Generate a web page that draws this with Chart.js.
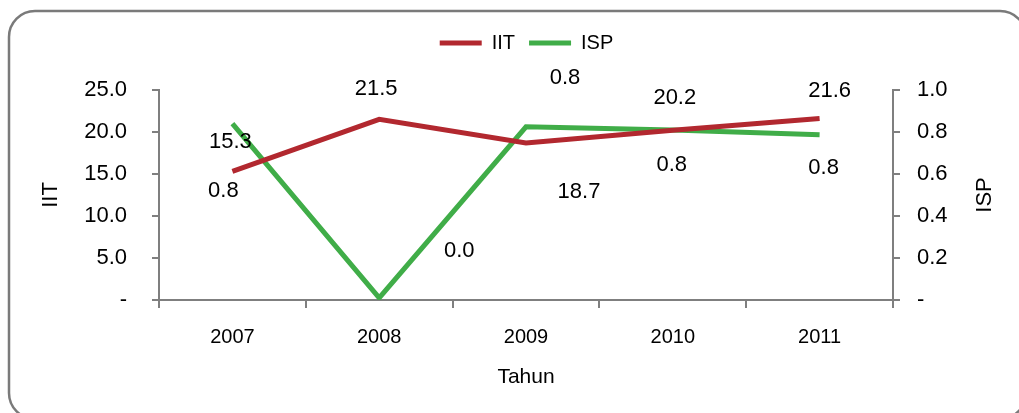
<!DOCTYPE html>
<html>
<head>
<meta charset="utf-8">
<script src="https://cdn.jsdelivr.net/npm/chart.js@4"></script>
<style>
  html, body { margin: 0; padding: 0; background: #fff; }
  #wrap { width: 1019px; height: 413px; }
</style>
</head>
<body>
<div id="wrap"><canvas id="c" width="1019" height="413"></canvas></div>
<script>
// data
const years = ["2007", "2008", "2009", "2010", "2011"];
const iitValues = [15.3, 21.5, 18.7, 20.2, 21.6];
const ispValues = [0.84, 0.01, 0.825, 0.81, 0.787];
const iitTicks = [0, 5, 10, 15, 20, 25];
const ispTicks = [0, 0.2, 0.4, 0.6, 0.8, 1.0];

// where each data label sits relative to its point (px)
const iitLabelOffsets = [[-2, -30], [-3, -30], [53, 49], [2, -32], [10, -28]];
const ispLabelOffsets = [[-9, 67], [80, -47], [39, -49], [-1, 35], [4, 33]];

const RED = "#b2282f";
const GREEN = "#40ad48";
const AXIS = "#7f7f7f";
const FONT = "'Liberation Sans', Arial, sans-serif";

// rounded frame around the whole chart
const framePlugin = {
  id: "frame",
  beforeDraw(chart) {
    const ctx = chart.ctx;
    const x = 9, y = 11, w = 1017, h = 408, r = 26;
    ctx.save();
    ctx.fillStyle = "#fff";
    ctx.fillRect(0, 0, chart.width, chart.height);
    ctx.beginPath();
    ctx.moveTo(x + r, y);
    ctx.lineTo(x + w - r, y);
    ctx.arcTo(x + w, y, x + w, y + r, r);
    ctx.lineTo(x + w, y + h - r);
    ctx.arcTo(x + w, y + h, x + w - r, y + h, r);
    ctx.lineTo(x + r, y + h);
    ctx.arcTo(x, y + h, x, y + h - r, r);
    ctx.lineTo(x, y + r);
    ctx.arcTo(x, y, x + r, y, r);
    ctx.closePath();
    ctx.lineWidth = 2.5;
    ctx.strokeStyle = "#7a7a7a";
    ctx.stroke();
    ctx.restore();
  }
};

// value labels, one decimal, placed like the original
const valueLabels = {
  id: "valueLabels",
  afterDatasetsDraw(chart) {
    const ctx = chart.ctx;
    ctx.save();
    ctx.font = "22px " + FONT;
    ctx.fillStyle = "#000";
    ctx.textAlign = "center";
    ctx.textBaseline = "middle";
    chart.data.datasets.forEach((ds, di) => {
      const meta = chart.getDatasetMeta(di);
      const offs = ds.labelOffsets;
      meta.data.forEach((pt, i) => {
        const o = offs[i] || [0, 0];
        ctx.fillText(ds.data[i].toFixed(1), pt.x + o[0], pt.y + o[1]);
      });
    });
    ctx.restore();
  }
};

// right axis title reads bottom-to-top like the left one
const rightTitle = {
  id: "rightTitle",
  afterDraw(chart) {
    const s = chart.scales.y1;
    const ctx = chart.ctx;
    ctx.save();
    ctx.translate(s.right - 34, (s.top + s.bottom) / 2);
    ctx.rotate(-Math.PI / 2);
    ctx.font = "22px " + FONT;
    ctx.fillStyle = "#000";
    ctx.textAlign = "center";
    ctx.textBaseline = "middle";
    ctx.fillText("ISP", 0, 0);
    ctx.restore();
  }
};

const dashZero = (v, digits) => (v === 0 ? "-" : Number(v).toFixed(digits));

new Chart(document.getElementById("c"), {
  type: "line",
  data: {
    labels: years,
    datasets: [
      {
        label: "IIT",
        data: iitValues,
        yAxisID: "y",
        borderColor: RED,
        backgroundColor: RED,
        borderWidth: 5,
        borderJoinStyle: "miter",
        pointRadius: 0,
        tension: 0,
        labelOffsets: iitLabelOffsets
      },
      {
        label: "ISP",
        data: ispValues,
        yAxisID: "y1",
        borderColor: GREEN,
        backgroundColor: GREEN,
        borderWidth: 5,
        borderJoinStyle: "miter",
        pointRadius: 0,
        tension: 0,
        labelOffsets: ispLabelOffsets
      }
    ]
  },
  options: {
    responsive: false,
    animation: false,
    layout: { padding: { left: 34, right: 0, top: 19, bottom: 0 } },
    plugins: {
      legend: {
        position: "top",
        labels: {
          usePointStyle: true,
          pointStyle: "line",
          pointStyleWidth: 42,
          boxHeight: 20,
          padding: 14,
          color: "#000",
          font: { family: FONT, size: 20 }
        }
      },
      // empty title used as a spacer between legend and plot
      title: {
        display: true,
        text: "",
        weight: 500,
        padding: { top: 0, bottom: 17 },
        font: { size: 10, lineHeight: 1 }
      },
      tooltip: { enabled: false }
    },
    scales: {
      x: {
        offset: true,
        grid: {
          offset: true,
          drawOnChartArea: false,
          drawTicks: true,
          tickLength: 8,
          color: AXIS,
          lineWidth: 2
        },
        border: { color: AXIS, width: 2 },
        ticks: { color: "#000", padding: 17, font: { family: FONT, size: 20 } },
        title: {
          display: true,
          text: "Tahun",
          color: "#000",
          padding: { top: 0, bottom: 23 },
          font: { family: FONT, size: 21 }
        },
        afterFit(scale) { scale.height = 113; }
      },
      y: {
        position: "left",
        min: 0,
        max: 25,
        afterBuildTicks(scale) { scale.ticks = iitTicks.map(v => ({ value: v })); },
        grid: {
          drawOnChartArea: false,
          drawTicks: true,
          tickLength: 7,
          color: AXIS,
          lineWidth: 2
        },
        border: { color: AXIS, width: 2 },
        ticks: {
          color: "#000",
          padding: 25,
          font: { family: FONT, size: 22 },
          callback: v => dashZero(v, 1)
        },
        title: {
          display: true,
          text: "IIT",
          color: "#000",
          padding: { top: 4, bottom: 0 },
          font: { family: FONT, size: 22 }
        },
        afterFit(scale) { scale.width = 125; }
      },
      y1: {
        position: "right",
        min: 0,
        max: 1,
        afterBuildTicks(scale) { scale.ticks = ispTicks.map(v => ({ value: v })); },
        grid: {
          drawOnChartArea: false,
          drawTicks: true,
          tickLength: 7,
          color: AXIS,
          lineWidth: 2
        },
        border: { color: AXIS, width: 2 },
        ticks: {
          color: "#000",
          padding: 17,
          font: { family: FONT, size: 22 },
          callback: v => dashZero(v, 1)
        },
        title: { display: false },
        afterFit(scale) { scale.width = 126; }
      }
    }
  },
  plugins: [framePlugin, valueLabels, rightTitle]
});
</script>
</body>
</html>
